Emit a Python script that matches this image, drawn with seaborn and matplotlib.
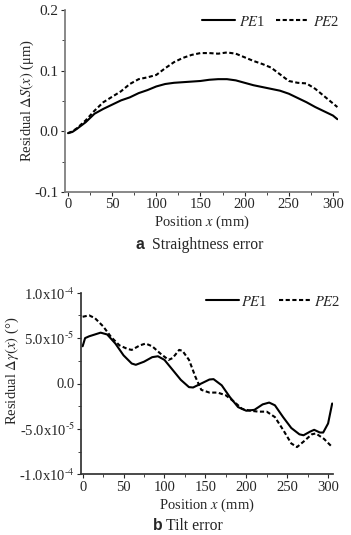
import numpy as np
import pandas as pd
import matplotlib
matplotlib.use('Agg')
import matplotlib.pyplot as plt
import seaborn as sns
from matplotlib.ticker import MultipleLocator, FixedLocator, FixedFormatter

# (a) straightness residual, um
x_a = [0, 5, 10, 20, 30, 40, 50, 60, 70, 80, 90, 100, 110, 120, 130, 140, 150, 160,
       170, 180, 190, 200, 210, 220, 230, 240, 250, 260, 270, 280, 290, 300, 305]
pe1_a = [-0.003, -0.001, 0.004, 0.015, 0.029, 0.037, 0.044, 0.051, 0.056, 0.063, 0.068,
         0.074, 0.078, 0.080, 0.081, 0.082, 0.083, 0.085, 0.086, 0.086, 0.084, 0.080,
         0.076, 0.073, 0.070, 0.067, 0.062, 0.055, 0.048, 0.040, 0.033, 0.026, 0.020]
pe2_a = [-0.003, 0.000, 0.005, 0.018, 0.034, 0.048, 0.057, 0.066, 0.078, 0.086, 0.089,
         0.093, 0.104, 0.114, 0.121, 0.126, 0.129, 0.129, 0.128, 0.130, 0.128, 0.122,
         0.116, 0.111, 0.105, 0.094, 0.083, 0.080, 0.079, 0.070, 0.058, 0.046, 0.040]

# (b) tilt residual, in 1e-5 deg
x_b1 = [0, 3, 8, 15, 22, 30, 40, 50, 60, 65, 75, 85, 92, 100, 110, 120, 130, 135, 145,
        155, 160, 170, 180, 190, 200, 210, 220, 228, 235, 245, 255, 265, 270, 278, 283,
        290, 294, 300, 305]
pe1_b = [4.1, 5.0, 5.2, 5.4, 5.6, 5.4, 4.4, 3.1, 2.2, 2.06, 2.4, 2.9, 3.0, 2.6, 1.5, 0.4,
         -0.4, -0.44, 0.0, 0.44, 0.48, -0.2, -1.5, -2.6, -3.0, -2.9, -2.3, -2.1, -2.4,
         -3.7, -4.9, -5.6, -5.7, -5.3, -5.1, -5.4, -5.4, -4.4, -2.2]
x_b2 = [0, 8, 15, 25, 35, 45, 55, 60, 70, 77, 85, 95, 105, 110, 118, 122, 130, 138, 145,
        155, 165, 175, 185, 195, 205, 215, 225, 235, 245, 255, 262, 270, 280, 285, 295, 305]
pe2_b = [7.35, 7.5, 7.2, 6.3, 5.1, 4.2, 3.8, 3.7, 4.2, 4.4, 4.1, 3.3, 2.6, 2.8, 3.7, 3.6,
         2.6, 0.7, -0.7, -1.0, -1.0, -1.3, -2.0, -2.8, -3.0, -3.1, -3.1, -3.7, -5.1,
         -6.6, -7.0, -6.4, -5.6, -5.5, -6.1, -7.0]

yticks_b = [-1e-4, -5e-5, 0.0, 5e-5, 1e-4]
yticklabels_b = [r'-1.0x10$^{\text{-4}}$', r'-5.0x10$^{\text{-5}}$', '0.0',
                 r'5.0x10$^{\text{-5}}$', r'1.0x10$^{\text{-4}}$']

df_a = pd.concat([
    pd.DataFrame({'x': x_a, 'y': pe1_a, 'series': 'PE1'}),
    pd.DataFrame({'x': x_a, 'y': pe2_a, 'series': 'PE2'}),
])
df_b = pd.concat([
    pd.DataFrame({'x': x_b1, 'y': np.array(pe1_b) * 1e-5, 'series': 'PE1'}),
    pd.DataFrame({'x': x_b2, 'y': np.array(pe2_b) * 1e-5, 'series': 'PE2'}),
])

sns.set_theme(style='ticks')
plt.rcParams['font.family'] = ['Liberation Serif', 'DejaVu Serif']
plt.rcParams['mathtext.fontset'] = 'stix'
plt.rcParams['font.size'] = 10.5

fig = plt.figure(figsize=(3.51, 5.35), dpi=100)
ax1 = fig.add_axes([65/351, 1-192/535, (338-65)/351, (192-10)/535])
ax2 = fig.add_axes([81/351, 1-474.3/535, (333-81)/351, (474.3-292.7)/535])

dash_map = {'PE1': '', 'PE2': (2, 1.2)}
for ax, df in [(ax1, df_a), (ax2, df_b)]:
    sns.lineplot(data=df, x='x', y='y', style='series', dashes=dash_map, color='black',
                 estimator=None, sort=True, ax=ax, legend=False, lw=1.5)
    for name in ['PE1', 'PE2']:
        ax.plot([], [], color='black', lw=1.5, ls='-' if name == 'PE1' else (0, (2, 1.2)),
                label=r'$PE$1' if name == 'PE1' else r'$PE$2')
    sns.despine(ax=ax)
    ax.xaxis.set_major_locator(MultipleLocator(50))
    ax.xaxis.set_minor_locator(MultipleLocator(25))
    ax.tick_params(which='major', length=3, width=0.8, labelsize=10.5, pad=1.5)
    ax.tick_params(which='minor', length=2, width=0.6)
    ax.set_xlabel(r'Position $x$ (mm)', fontsize=10.5, labelpad=2)

ax1.set_xlim(-3.4, 305.7)
ax1.set_ylim(-0.1, 0.2)
ax1.yaxis.set_major_locator(MultipleLocator(0.1))
ax1.yaxis.set_minor_locator(MultipleLocator(0.05))
ax1.yaxis.set_major_formatter(plt.FuncFormatter(lambda v, p: f'{v:.1f}'))
ax1.tick_params(axis='y', labelsize=11)
ax1.set_ylabel(r'Residual $\Delta S(x)$ (μm)', fontsize=10.5)
ax1.yaxis.set_label_coords(-0.105, 0.5)
for s in ['left', 'bottom']:
    ax1.spines[s].set_color('#7a7a7a')
ax1.legend(ncol=2, frameon=False, loc='upper right', bbox_to_anchor=(1.004, 0.975),
           borderaxespad=0, borderpad=0, handlelength=2.3, handletextpad=0.25,
           columnspacing=0.7, fontsize=10.5)

ax2.set_xlim(-2, 306)
ax2.set_ylim(-1e-4, 1e-4)
ax2.yaxis.set_major_locator(FixedLocator(yticks_b))
ax2.yaxis.set_major_formatter(FixedFormatter(yticklabels_b))
ax2.yaxis.set_minor_locator(MultipleLocator(2.5e-5))
ax2.yaxis.get_offset_text().set_visible(False)
ax2.set_ylabel(r'Residual $\Delta\gamma(x)$ (°)', fontsize=10.5)
ax2.yaxis.set_label_coords(-0.238, 0.57)
for s in ['left', 'bottom']:
    ax2.spines[s].set_color('#333333')
ax2.legend(ncol=2, frameon=False, loc='upper right', bbox_to_anchor=(1.028, 0.99),
           borderaxespad=0, borderpad=0, handlelength=2.3, handletextpad=0.1,
           columnspacing=0.8, fontsize=10.5)

fig.text(135/351, 1-245/535, 'a', family='Liberation Sans', weight='bold',
         fontsize=11.3, ha='left', va='center')
fig.text(152/351, 1-245/535, 'Straightness error', fontsize=11.3, ha='left', va='center')
fig.text(153/351, 1-526/535, 'b', family='Liberation Sans', weight='bold',
         fontsize=11.3, ha='left', va='center')
fig.text(166/351, 1-526/535, 'Tilt error', fontsize=11.3, ha='left', va='center')

fig.savefig('out.png', dpi=100)
